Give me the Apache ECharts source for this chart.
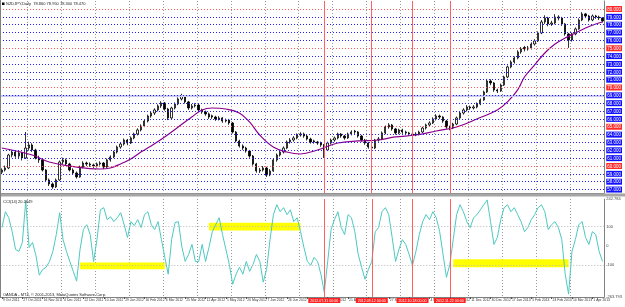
<!DOCTYPE html>
<html>
<head>
<meta charset="utf-8">
<script src="https://cdn.jsdelivr.net/npm/echarts@6.0.0/dist/echarts.min.js"></script>
<style>
  html, body { margin: 0; padding: 0; background: #fff; }
  #chart { width: 625px; height: 307px; }
</style>
</head>
<body>
<div id="chart"></div>
<script>
// date tick labels, one every 6 bars
const dateLabels = ['9 Oct 2011', '27 Oct 2011', '16 Nov 2011', '4 Dec 2011', '22 Dec 2011', '10 Jan 2012',
  '29 Jan 2012', '16 Feb 2012', '6 Mar 2012', '25 Mar 2012', '12 Apr 2012', '1 May 2012', '20 May 2012',
  '7 Jun 2012', '26 Jun 2012', '15 Jul 2012', '2 Aug 2012', '21 Aug 2012', '9 Sep 2012', '27 Sep 2012',
  '16 Oct 2012', '4 Nov 2012', '22 Nov 2012', '11 Dec 2012', '30 Dec 2012', '17 Jan 2013', '5 Feb 2013',
  '24 Feb 2013', '14 Mar 2013', '1 Apr 2013'];

// NZDJPY bars: [open, close, low, high]
const candles = [
  [59.20,59.49,58.95,59.70],[59.49,59.75,59.30,60.05],[59.75,61.40,59.60,61.55],[61.40,61.78,61.10,62.00],[61.78,61.27,61.05,61.95],
  [61.27,61.66,61.00,61.90],[61.66,61.02,60.70,61.80],[61.02,62.29,60.90,64.33],[62.29,62.68,61.95,63.10],[62.68,62.04,61.80,62.90],
  [62.04,61.02,60.85,62.20],[61.02,60.77,60.40,61.30],[60.77,59.49,59.30,60.90],[59.49,58.22,58.00,59.60],[58.22,57.71,57.45,58.40],
  [57.71,57.33,57.10,57.90],[57.33,58.22,57.20,58.40],[58.22,60.51,58.10,60.70],[60.51,60.77,60.20,61.05],[60.77,60.26,60.00,60.95],
  [60.26,59.49,59.30,60.40],[59.49,59.11,58.90,59.70],[59.11,58.61,58.40,59.30],[58.61,59.87,58.50,60.05],[59.87,60.38,59.70,60.60],
  [60.38,60.26,60.00,60.55],[60.26,60.13,59.90,60.45],[60.13,60.00,59.75,60.30],[60.00,60.26,59.80,60.45],[60.26,60.38,60.05,60.60],
  [60.38,59.87,59.60,60.50],[59.87,60.77,59.75,60.95],[60.77,61.15,60.55,61.35],[61.15,61.78,61.00,61.95],[61.78,62.42,61.60,62.60],
  [62.42,62.80,62.20,63.00],[62.80,63.31,62.60,63.50],[63.31,62.93,62.65,63.45],[62.93,63.57,62.80,63.75],[63.57,64.08,63.40,64.25],
  [64.08,64.59,63.90,64.80],[64.59,65.10,64.40,65.30],[65.10,65.73,64.95,65.90],[65.73,66.37,65.55,66.55],[66.37,66.75,66.15,66.95],
  [66.75,67.14,66.50,67.35],[67.14,67.65,66.95,67.85],[67.65,68.03,67.40,68.25],[68.03,67.26,67.05,68.15],[67.26,66.12,65.85,67.40],
  [66.12,67.39,66.00,67.55],[67.39,67.90,67.20,68.10],[67.90,68.54,67.75,68.75],[68.54,68.92,68.35,69.20],[68.92,68.16,67.95,69.05],
  [68.16,67.39,67.15,68.30],[67.39,67.65,67.20,67.90],[67.65,67.77,67.45,68.00],[67.77,67.14,66.90,67.90],[67.14,66.88,66.65,67.30],
  [66.88,66.63,66.40,67.05],[66.63,66.24,66.00,66.80],[66.40,66.24,66.00,66.55],[66.24,65.99,65.75,66.40],[65.99,66.12,65.80,66.35],
  [66.12,65.73,65.50,66.25],[65.73,65.86,65.55,66.05],[65.86,65.48,65.25,66.00],[65.48,64.33,64.15,65.60],[64.33,63.19,63.00,64.45],
  [63.19,62.55,62.35,63.35],[62.55,62.29,62.05,62.75],[62.29,61.91,61.70,62.45],[61.91,61.27,61.05,62.05],[61.27,60.26,60.05,61.40],
  [60.26,59.37,59.15,60.40],[59.37,59.49,59.10,59.75],[59.49,59.75,59.30,60.00],[59.75,58.86,58.60,59.90],[58.86,59.37,58.70,59.60],
  [59.37,60.77,59.25,60.95],[60.77,61.40,60.55,61.60],[61.40,61.78,61.20,62.00],[61.78,62.29,61.60,62.50],[62.29,63.06,62.15,63.25],
  [63.06,63.31,62.85,63.55],[63.31,63.57,63.10,63.80],[63.57,63.95,63.40,64.15],[63.95,64.08,63.75,64.30],[64.08,63.82,63.60,64.25],
  [63.82,63.44,63.25,63.95],[63.44,63.06,62.85,63.60],[63.20,63.06,62.85,63.35],[63.06,62.93,62.70,63.20],[62.93,62.68,62.45,63.10],
  [62.68,62.04,61.02,62.80],[62.04,62.93,61.90,63.10],[62.93,63.31,62.75,63.50],[63.31,63.57,63.10,63.75],[63.57,64.08,63.40,64.25],
  [64.08,63.82,63.60,64.20],[63.82,63.57,63.35,63.95],[63.57,64.08,63.45,64.25],[64.08,64.33,63.90,64.55],[64.45,64.33,64.10,64.60],
  [64.33,63.82,63.60,64.45],[63.82,63.31,63.10,63.95],[63.31,62.93,62.70,63.45],[62.93,62.42,62.20,63.05],[62.42,62.29,62.00,62.60],
  [62.29,63.31,62.15,63.45],[63.31,63.44,63.10,63.70],[63.44,64.21,63.30,64.40],[64.21,64.97,64.05,65.15],[64.97,65.23,64.75,65.45],
  [65.23,64.72,64.50,65.35],[64.72,64.21,64.00,64.85],[64.21,64.59,64.05,64.75],[64.59,64.33,64.10,64.75],[64.33,64.21,64.00,64.50],
  [64.21,64.08,63.85,64.35],[64.08,63.95,63.75,64.25],[63.95,64.08,63.80,64.30],[64.08,64.33,63.90,64.50],[64.33,64.84,64.20,65.00],
  [64.84,65.23,64.65,65.40],[65.23,65.48,65.05,65.70],[65.48,65.99,65.35,66.20],[65.99,66.37,65.80,66.60],[66.37,66.24,66.00,66.55],
  [66.24,65.73,65.50,66.35],[65.73,64.97,64.75,65.85],[64.97,64.84,64.55,65.15],[64.84,65.35,64.70,65.50],[65.35,66.12,65.20,66.30],
  [66.12,66.75,66.00,66.95],[66.75,67.14,66.55,67.35],[67.14,67.52,66.95,67.75],[67.52,67.39,67.15,67.70],[67.39,67.52,67.20,67.75],
  [67.52,67.90,67.35,68.10],[67.90,68.41,67.75,68.60],[68.41,69.43,68.30,69.60],[69.43,70.83,69.30,71.10],[70.83,70.58,70.30,71.05],
  [70.58,69.69,69.45,70.70],[69.69,69.56,69.30,69.85],[69.56,70.32,69.45,70.50],[70.32,71.34,70.20,71.50],[71.34,72.62,71.20,72.80],
  [72.62,73.25,72.45,73.45],[73.25,73.76,73.05,73.95],[73.76,74.53,73.60,74.75],[74.53,74.91,74.30,75.15],[75.10,74.91,74.60,75.30],
  [74.91,75.04,74.70,75.30],[75.04,75.54,74.85,75.75],[75.54,75.93,75.35,76.15],[75.93,76.95,75.80,77.15],[76.95,78.35,76.80,78.60],
  [78.35,78.86,78.10,79.20],[78.86,78.09,77.80,79.00],[78.09,78.22,77.85,78.50],[78.22,78.98,78.05,79.35],[78.98,78.86,78.55,79.20],
  [78.86,78.09,77.85,79.00],[78.09,76.82,76.60,78.20],[76.82,76.05,75.04,76.95],[76.05,76.82,75.85,77.00],[76.82,77.46,76.65,77.65],
  [77.46,78.60,77.35,78.80],[78.60,79.37,78.45,79.60],[79.37,79.11,78.85,79.50],[79.11,78.60,78.40,79.25],[78.60,79.11,78.45,79.30],
  [79.11,78.98,78.75,79.25],[78.98,78.86,78.60,79.15],[78.86,78.47,78.30,78.95]
];

// moving average: [bar, value]
const maPoints = [
  [0,62.29],[9,61.40],[14,60.51],[22,59.87],[29,59.62],[32,59.75],[35,60.26],[38,60.89],[41,61.78],[44,62.55],
  [48,63.70],[52,64.97],[56,66.24],[59,67.14],[62,67.39],[66,67.26],[70,66.75],[73,65.61],[76,63.95],[80,62.42],
  [84,61.78],[88,61.53],[93,62.04],[99,62.93],[105,63.19],[111,63.31],[116,63.70],[122,63.95],[128,64.46],[134,64.97],
  [140,65.99],[146,67.14],[149,68.16],[152,69.69],[154,71.34],[157,72.87],[160,74.40],[163,75.54],[166,76.31],[169,76.95],
  [172,77.58],[175,78.09],[177,78.35]
];

// CCI(14), one value per bar
const cci = [
  95,177,146,74,-18,-28,18,233,-8,18,
  -49,-151,-121,-110,-80,-28,59,172,33,-28,
  -80,-131,-182,-18,85,110,59,-80,33,187,
  198,136,151,126,146,172,110,44,126,105,
  136,95,162,177,110,85,126,33,-59,-146,
  33,121,126,-3,-80,-44,8,-80,-80,8,
  -80,-8,74,110,146,59,-18,-95,-198,-146,
  -110,-146,-80,-131,-95,-44,-80,-187,-121,33,
  162,213,177,198,162,187,126,146,74,-8,
  -80,-100,-59,-80,-146,-239,-80,85,136,177,
  95,59,162,146,74,-44,-110,-172,-121,-80,
  74,95,177,198,162,44,-80,-18,33,8,
  -44,-100,-28,59,126,162,136,177,146,74,
  -44,-162,-95,33,162,213,177,126,95,146,
  162,187,213,238,126,8,44,136,198,213,
  177,198,162,126,74,95,136,162,198,213,
  177,85,110,126,95,33,-146,-249,-28,33,
  110,126,44,8,74,59,-28,-80
];

// horizontal price lines and their axis boxes
const priceLevels = [80,79,78,77,76,75,74,73,72,71,70,69,68,67,66,65,64,63,62,61,60,59,58,57];
const redLevels = [80,75,70,65,60];

// red vertical date lines
const markerBars = [95, 109, 121, 132];
const markerLabels = ['2012.07.31 00:00', '2012.09.12 00:00', '2012.10.18 00:00', '2012.11.22 00:00'];

// CCI scale
const cciLevels = [100, -100];
const cciTicks = [242.784, 100, 0, -100, -263.793];
const cciTickText = ['242.784', '100', '0', '-100', '-263.793'];

// yellow rectangles: [fromBar, fromValue, toBar, toValue]
const yellowBoxes = [[23, -85, 48, -120], [61, 120, 88, 80], [133, -69, 167, -110]];

const bars = candles.map((c, i) => i);
const font = 'Liberation Sans';

const chart = echarts.init(document.getElementById('chart'));

const vGrid = {
  show: true,
  interval: (i) => i % 10 === 8,
  lineStyle: { color: '#9a9a9a', type: [1, 2], width: 1 }
};

const option = {
  animation: false,
  backgroundColor: '#ffffff',
  textStyle: { fontFamily: font },
  grid: [
    { left: 0, right: 16, top: 1, height: 192 },
    { left: 0, right: 16, top: 199, height: 98 }
  ],
  xAxis: [
    {
      type: 'category', gridIndex: 0, data: bars, boundaryGap: true,
      axisLine: { show: true, onZero: false, lineStyle: { color: '#808080' } },
      axisTick: { show: false }, axisLabel: { show: false },
      splitLine: vGrid
    },
    {
      type: 'category', gridIndex: 1, data: bars, boundaryGap: true,
      axisLine: { show: true, onZero: false, lineStyle: { color: '#808080' } },
      axisTick: { show: true, interval: 5, alignWithLabel: true, length: 2, lineStyle: { color: '#555' } },
      axisLabel: {
        interval: 5, align: 'left', margin: 2, fontSize: 3.4, color: '#333', padding: [0, 0, 0, 1],
        formatter: (v, i) => dateLabels[i / 6] || ''
      },
      splitLine: vGrid
    }
  ],
  yAxis: [
    {
      type: 'value', gridIndex: 0, position: 'right', min: 56.56, max: 81.02,
      axisLine: { show: true, lineStyle: { color: '#808080' } },
      axisTick: { show: false }, splitLine: { show: false },
      axisLabel: {
        customValues: priceLevels, margin: 2,
        formatter: (v) => (redLevels.includes(v) ? '{r|' : '{b|') + v.toFixed(3) + '}',
        rich: {
          b: { backgroundColor: '#1010ff', color: '#fff', fontSize: 4.5, lineHeight: 5, padding: [1, 1, 0, 1], fontFamily: font },
          r: { backgroundColor: '#ff2a2a', color: '#fff', fontSize: 4.5, lineHeight: 5, padding: [1, 1, 0, 1], fontFamily: font }
        }
      }
    },
    {
      type: 'value', gridIndex: 1, position: 'right', min: -263.793, max: 242.784,
      axisLine: { show: true, lineStyle: { color: '#808080' } },
      axisTick: { show: false }, splitLine: { show: false },
      axisLabel: {
        customValues: cciTicks, margin: 2, fontSize: 4, color: '#444',
        formatter: (v) => cciTickText[cciTicks.indexOf(v)] || ''
      }
    }
  ],
  series: [
    {
      // price lines and date markers behind the candles
      type: 'line', xAxisIndex: 0, yAxisIndex: 0, data: [], z: 1,
      markLine: {
        symbol: ['none', 'none'], silent: true, label: { show: false },
        data: [
          { yAxis: 69, lineStyle: { color: '#c9c9f2', type: 'solid', width: 2 } },
          ...priceLevels.map((v) => ({
            yAxis: v,
            lineStyle: redLevels.includes(v)
              ? { color: '#ff5a5a', type: [1, 2], width: 1 }
              : { color: '#1e1eff', type: [1, 2], width: 1 }
          })),
          ...markerBars.map((b) => ({ xAxis: b, lineStyle: { color: '#ff6060', type: 'solid', width: 1 } }))
        ]
      }
    },
    {
      type: 'candlestick', xAxisIndex: 0, yAxisIndex: 0, data: candles, z: 3,
      barWidth: 1.8,
      itemStyle: { color: '#ffffff', color0: '#000000', borderColor: '#000000', borderColor0: '#000000', borderWidth: 0.8 }
    },
    {
      type: 'line', xAxisIndex: 0, yAxisIndex: 0, data: maPoints, z: 4,
      smooth: 0.4, showSymbol: false,
      lineStyle: { color: '#8b008b', width: 1.2 }
    },
    {
      type: 'line', xAxisIndex: 1, yAxisIndex: 1, data: cci, z: 3,
      showSymbol: false,
      lineStyle: { color: '#4cc9c0', width: 1 },
      markArea: {
        silent: true,
        itemStyle: { color: '#ffff00', opacity: 1 },
        data: yellowBoxes.map((r) => [{ coord: [r[0], r[1]] }, { coord: [r[2], r[3]] }])
      },
      markLine: {
        symbol: ['none', 'none'], silent: true,
        data: [
          ...cciLevels.map((v) => ({ yAxis: v, label: { show: false }, lineStyle: { color: '#b8b8b8', type: [1, 2], width: 1 } })),
          ...markerBars.map((b, k) => ({
            xAxis: b,
            lineStyle: { color: '#ff6060', type: 'solid', width: 1 },
            label: {
              show: true, position: 'start', distance: 1, formatter: markerLabels[k],
              backgroundColor: '#ff2020', color: '#fff', fontSize: 3.6, padding: [1, 2, 0, 2], fontFamily: font
            }
          }))
        ]
      }
    }
  ],
  graphic: [
    { type: 'rect', shape: { x: 0, y: 193.5, width: 625, height: 3 }, style: { fill: '#a6a6a6' }, z: 10 },
    { type: 'line', shape: { x1: 0.5, y1: 0, x2: 0.5, y2: 297 }, style: { stroke: '#808080', lineWidth: 1 }, z: 10 },
    { type: 'rect', shape: { x: 2, y: 2.5, width: 2.5, height: 2.5 }, style: { fill: '#000' }, z: 10 },
    { type: 'text', x: 6, y: 2, style: { text: 'NZDJPY,Daily  78.860 78.950 78.300 78.470', fontSize: 4, fontFamily: font, fill: '#222' }, z: 10 },
    { type: 'text', x: 3, y: 199.5, style: { text: 'CCI(14) 20.2649', fontSize: 4, fontFamily: font, fill: '#222' }, z: 10 },
    { type: 'text', x: 3, y: 292.5, style: { text: 'OANDA - MT4, \u00a9 2001-2013, MetaQuotes Software Corp.', fontSize: 4, fontFamily: font, fill: '#222' }, z: 10 }
  ]
};

chart.setOption(option);
</script>
</body>
</html>
